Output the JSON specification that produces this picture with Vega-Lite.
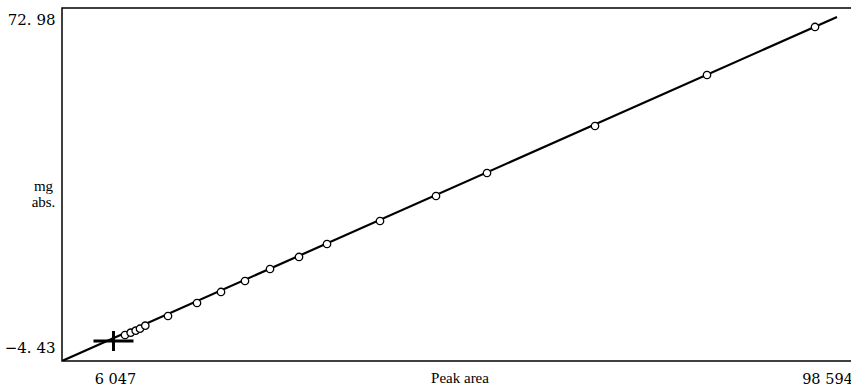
{
  "$schema": "https://vega.github.io/schema/vega-lite/v6.json",
  "autosize": "none",
  "width": 795,
  "height": 353,
  "padding": {"left": 62, "top": 8, "right": 0, "bottom": 29},
  "background": "white",
  "config": {
    "view": {"stroke": "black", "strokeWidth": 1.5},
    "axis": {"grid": false, "ticks": false, "domain": false, "labelFlush": false, "labelOverlap": false}
  },
  "datasets": {
    "points": [
      {"area": 7347, "mg": -1.36},
      {"area": 8088, "mg": -0.82},
      {"area": 8738, "mg": -0.35},
      {"area": 9296, "mg": 0.12},
      {"area": 9985, "mg": 0.83},
      {"area": 12936, "mg": 3.12},
      {"area": 16705, "mg": 6.19},
      {"area": 19825, "mg": 8.79},
      {"area": 22944, "mg": 11.38},
      {"area": 26194, "mg": 14.21},
      {"area": 29963, "mg": 17.05},
      {"area": 33603, "mg": 20.11},
      {"area": 40492, "mg": 25.54},
      {"area": 47771, "mg": 31.44},
      {"area": 54400, "mg": 36.87},
      {"area": 68437, "mg": 47.96},
      {"area": 82995, "mg": 60.0},
      {"area": 97033, "mg": 71.33}
    ],
    "fit": [
      {"area": -842, "mg": -7.5},
      {"area": 99893, "mg": 73.69}
    ],
    "cross": [
      {"area": 5850, "mg": -2.8}
    ]
  },
  "encoding": {
    "x": {
      "field": "area", "type": "quantitative",
      "scale": {"domain": [-842, 102492], "nice": false, "zero": false},
      "axis": {
        "values": [6047, 98594],
        "labelExpr": "datum.value < 50000 ? '6 047' : '98 594'",
        "labelFont": "DejaVu Serif", "labelFontSize": 14.5, "labelColor": "black",
        "labelPadding": 11,
        "labelDx": -3,
        "title": "Peak area", "titleFont": "Liberation Serif", "titleFontSize": 15,
        "titleFontWeight": "normal", "titleColor": "black",
        "titleY": 16, "titleBaseline": "middle"
      }
    },
    "y": {
      "field": "mg", "type": "quantitative",
      "scale": {"domain": [-7.5, 75.81], "nice": false, "zero": false},
      "axis": {
        "values": [-4.43, 72.98],
        "labelExpr": "datum.value > 0 ? '72. 98' : '−4. 43'",
        "labelFont": "DejaVu Serif", "labelFontSize": 15, "labelColor": "black",
        "labelPadding": 7,
        "title": ["mg", "abs."], "titleFont": "Liberation Serif", "titleFontSize": 15,
        "titleFontWeight": "normal", "titleColor": "black", "titleAngle": 0,
        "titleAlign": "center", "titleBaseline": "middle", "titleLineHeight": 16,
        "titleX": -19, "titleY": 177
      }
    }
  },
  "layer": [
    {
      "data": {"name": "fit"},
      "mark": {"type": "line", "color": "black", "strokeWidth": 2.2, "clip": true}
    },
    {
      "data": {"name": "points"},
      "mark": {"type": "point", "shape": "circle", "filled": false, "fill": "white", "fillOpacity": 1, "stroke": "black", "strokeWidth": 1.3, "size": 55, "opacity": 1}
    },
    {
      "data": {"name": "cross"},
      "mark": {"type": "point", "shape": "M-1,0H1M0,-0.5V0.5", "filled": false, "stroke": "black", "strokeWidth": 3, "size": 1600, "opacity": 1}
    }
  ]
}
